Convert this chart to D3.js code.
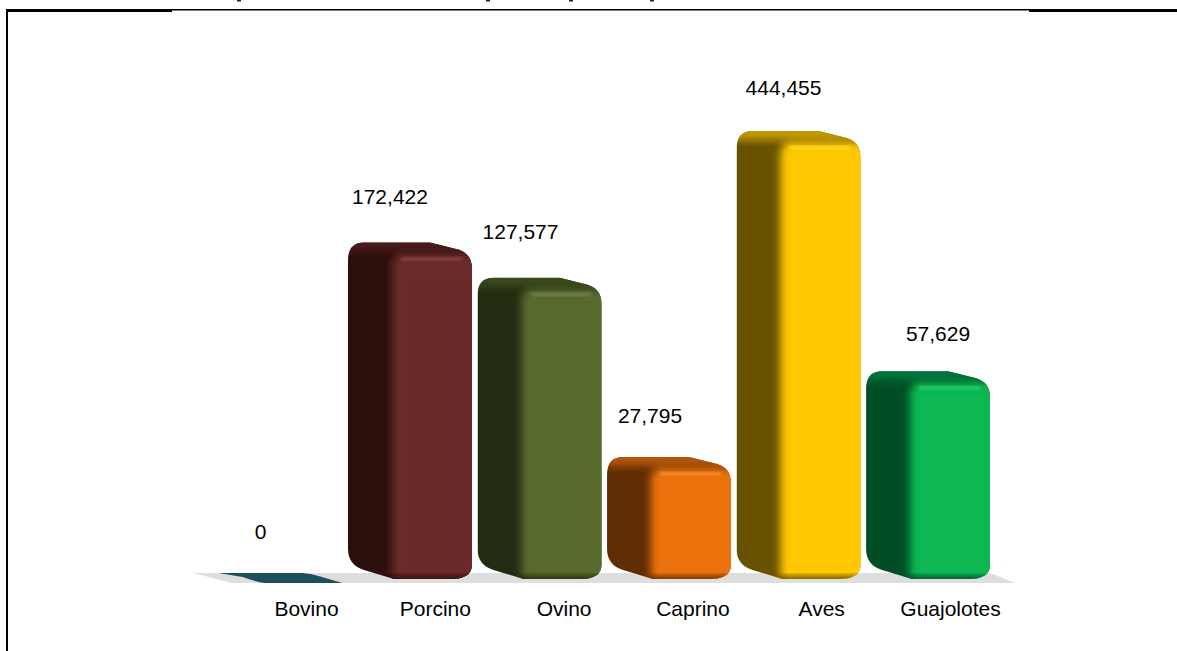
<!DOCTYPE html>
<html>
<head>
<meta charset="utf-8">
<script src="https://cdn.jsdelivr.net/npm/d3@7"></script>
<style>
    html, body { margin: 0; padding: 0; background: #fff; overflow: hidden; }
    text { font-family: "Liberation Sans", Arial, sans-serif; fill: #000; }
</style>
</head>
<body>
<div id="chart"></div>
<script>
const categories = ["Bovino", "Porcino", "Ovino", "Caprino", "Aves", "Guajolotes"];
const values = [0, 172422, 127577, 27795, 444455, 57629];
const frontColors = ["#1f4f5b", "#6b2b29", "#586a2f", "#ec7211", "#ffc805", "#07b853"];
const sideColors = ["#163a43", "#2b0f0d", "#222c10", "#612d04", "#685100", "#014d25"];
const topColors = ["#1c4651", "#4a1c1a", "#3c4a1e", "#b25608", "#c49b00", "#04753a"];
const glowColors = ["#2b6270", "#874644", "#728650", "#ff8f2e", "#ffe21c", "#2ad070"];

// the title is cut away by the top of the picture, only the tails of its letters are left
const titleTailX = [239, 488, 571, 652];

// hand placed data labels in the original, offset from the bar centre
const labelShiftX = [-20, -20, -19, -19, -15, 10];
const labelShiftY = [38, 38, 39, 34, 36, 30];

const width = 1177;
const height = 651;
const depth = 37;
const baseY = 579;
const floorTop = 573;
const floorBottom = 583;

const svg = d3.select("#chart")
    .append("svg")
    .attr("width", width)
    .attr("height", height)
    .attr("viewBox", `0 0 ${width} ${height}`)
    .style("display", "block");

const xScale = d3.scaleBand()
    .domain(categories)
    .range([218.5, 990])
    .paddingInner(0.043)
    .paddingOuter(0);

// the labels sit on a slightly tighter step than the bars
const labelScale = d3.scalePoint()
    .domain(categories)
    .range([306, 950]);

// the value axis of the original is logarithmic
const yScale = d3.scaleLog()
    .domain([10000, 1000000])
    .range([577.3, 35.7])
    .clamp(true);

const defs = svg.append("defs");
[1.5, 3, 4.5].forEach(s => {
    defs.append("filter")
        .attr("id", `blur${s * 10}`)
        .attr("x", "-30%").attr("y", "-30%")
        .attr("width", "160%").attr("height", "160%")
        .append("feGaussianBlur")
        .attr("stdDeviation", s);
});

// Frame
const frame = svg.append("g").attr("fill", "#000");
frame.append("rect").attr("x", 6).attr("y", 9).attr("width", 2).attr("height", height - 9);
frame.append("rect").attr("x", 6).attr("y", 9).attr("width", 166).attr("height", 3);
frame.append("rect").attr("x", 172).attr("y", 9).attr("width", 857).attr("height", 1.5);
frame.append("rect").attr("x", 1029).attr("y", 9).attr("width", 148).attr("height", 3);

svg.append("g")
    .selectAll("rect")
    .data(titleTailX)
    .join("rect")
    .attr("x", d => d - 2)
    .attr("y", 0)
    .attr("width", 4)
    .attr("height", 1.5)
    .attr("fill", "#222");

// Floor
svg.append("path")
    .attr("d", d3.line()([[193, floorTop], [990, floorTop], [1015, floorBottom], [232, floorBottom]]))
    .attr("fill", "#dedede");

const barOutline = (x, top, w) => {
    const p = d3.path();
    p.moveTo(x + 16, top);
    p.lineTo(x + 82, top);
    p.lineTo(x + 106, top + 6);
    p.quadraticCurveTo(x + w, top + 9, x + w, top + 26);
    p.lineTo(x + w, baseY - 14);
    p.quadraticCurveTo(x + w, baseY, x + w - 22, baseY);
    p.lineTo(x + 46, baseY);
    p.lineTo(x + 16, baseY - 9);
    p.quadraticCurveTo(x, baseY - 14, x, baseY - 30);
    p.lineTo(x, top + 18);
    p.quadraticCurveTo(x, top, x + 16, top);
    p.closePath();
    return p.toString();
};

// Bars
const bars = svg.append("g")
    .selectAll("g")
    .data(categories.map((name, i) => ({ name, value: values[i], i })))
    .join("g");

bars.filter(d => d.value === 0)
    .append("path")
    .attr("d", d => {
        const x = xScale(d.name);
        const w = xScale.bandwidth();
        const p = d3.path();
        p.moveTo(x, floorTop);
        p.lineTo(x + 84, floorTop);
        p.quadraticCurveTo(x + 92, floorTop + 0.5, x + 100, floorTop + 3);
        p.lineTo(x + w, floorBottom);
        p.lineTo(x + 46, floorBottom);
        p.quadraticCurveTo(x + 38, floorBottom - 1, x + 24, floorTop + 4);
        p.closePath();
        return p.toString();
    })
    .attr("fill", d => frontColors[d.i]);

const solid = bars.filter(d => d.value > 0);

solid.append("clipPath")
    .attr("id", d => `clip${d.i}`)
    .append("path")
    .attr("d", d => barOutline(xScale(d.name), yScale(d.value), xScale.bandwidth()));

const inner = solid.append("g").attr("clip-path", d => `url(#clip${d.i})`);

inner.append("rect")
    .attr("x", d => xScale(d.name))
    .attr("y", d => yScale(d.value))
    .attr("width", xScale.bandwidth())
    .attr("height", d => baseY - yScale(d.value))
    .attr("fill", d => sideColors[d.i]);

// top face, laid under the front face so it fades into the side
inner.append("rect")
    .attr("x", d => xScale(d.name) - 10)
    .attr("y", d => yScale(d.value) - 10)
    .attr("width", xScale.bandwidth() + 20)
    .attr("height", 19)
    .attr("fill", d => topColors[d.i])
    .attr("filter", "url(#blur45)");

// front face, the blur makes the soft edge to the side and the rounded shoulder
inner.append("rect")
    .attr("x", d => xScale(d.name) + depth + 7)
    .attr("y", d => yScale(d.value) + 11)
    .attr("width", xScale.bandwidth())
    .attr("height", d => baseY - yScale(d.value) + 20)
    .attr("rx", 10)
    .attr("fill", d => frontColors[d.i])
    .attr("filter", "url(#blur45)");

// highlight under the top edge
inner.append("rect")
    .attr("x", d => xScale(d.name) + depth + 16)
    .attr("y", d => yScale(d.value) + 15)
    .attr("width", xScale.bandwidth() - depth - 26)
    .attr("height", 3)
    .attr("fill", d => glowColors[d.i])
    .attr("filter", "url(#blur15)");

// the same face once more, inset and soft, so the colour is full away from the edge
inner.append("rect")
    .attr("x", d => xScale(d.name) + depth + 16)
    .attr("y", d => yScale(d.value) + 24)
    .attr("width", xScale.bandwidth())
    .attr("height", d => baseY - yScale(d.value))
    .attr("fill", d => frontColors[d.i])
    .attr("filter", "url(#blur30)");

// dark lip at the foot of the front face
inner.append("rect")
    .attr("x", d => xScale(d.name) + depth + 2)
    .attr("y", baseY - 3)
    .attr("width", xScale.bandwidth() - depth)
    .attr("height", 8)
    .attr("fill", d => sideColors[d.i])
    .attr("filter", "url(#blur30)");

// Data labels
svg.append("g")
    .selectAll("text")
    .data(values)
    .join("text")
    .attr("x", (d, i) => xScale(categories[i]) + xScale.bandwidth() / 2 + labelShiftX[i])
    .attr("y", (d, i) => yScale(d === 0 ? 10000 : d) - labelShiftY[i])
    .attr("text-anchor", "middle")
    .attr("font-size", 21)
    .text(d => d3.format(",")(d));

// Category axis
const bottomAxis = d3.axisBottom(labelScale).tickSize(0).tickPadding(0);
const axisG = svg.append("g")
    .attr("transform", `translate(0,${baseY + 22})`)
    .call(bottomAxis);
axisG.select(".domain").remove();
axisG.selectAll("text")
    .attr("font-size", 21)
    .style("font-family", '"Liberation Sans", Arial, sans-serif')
    .style("fill", "#000");
</script>
</body>
</html>
